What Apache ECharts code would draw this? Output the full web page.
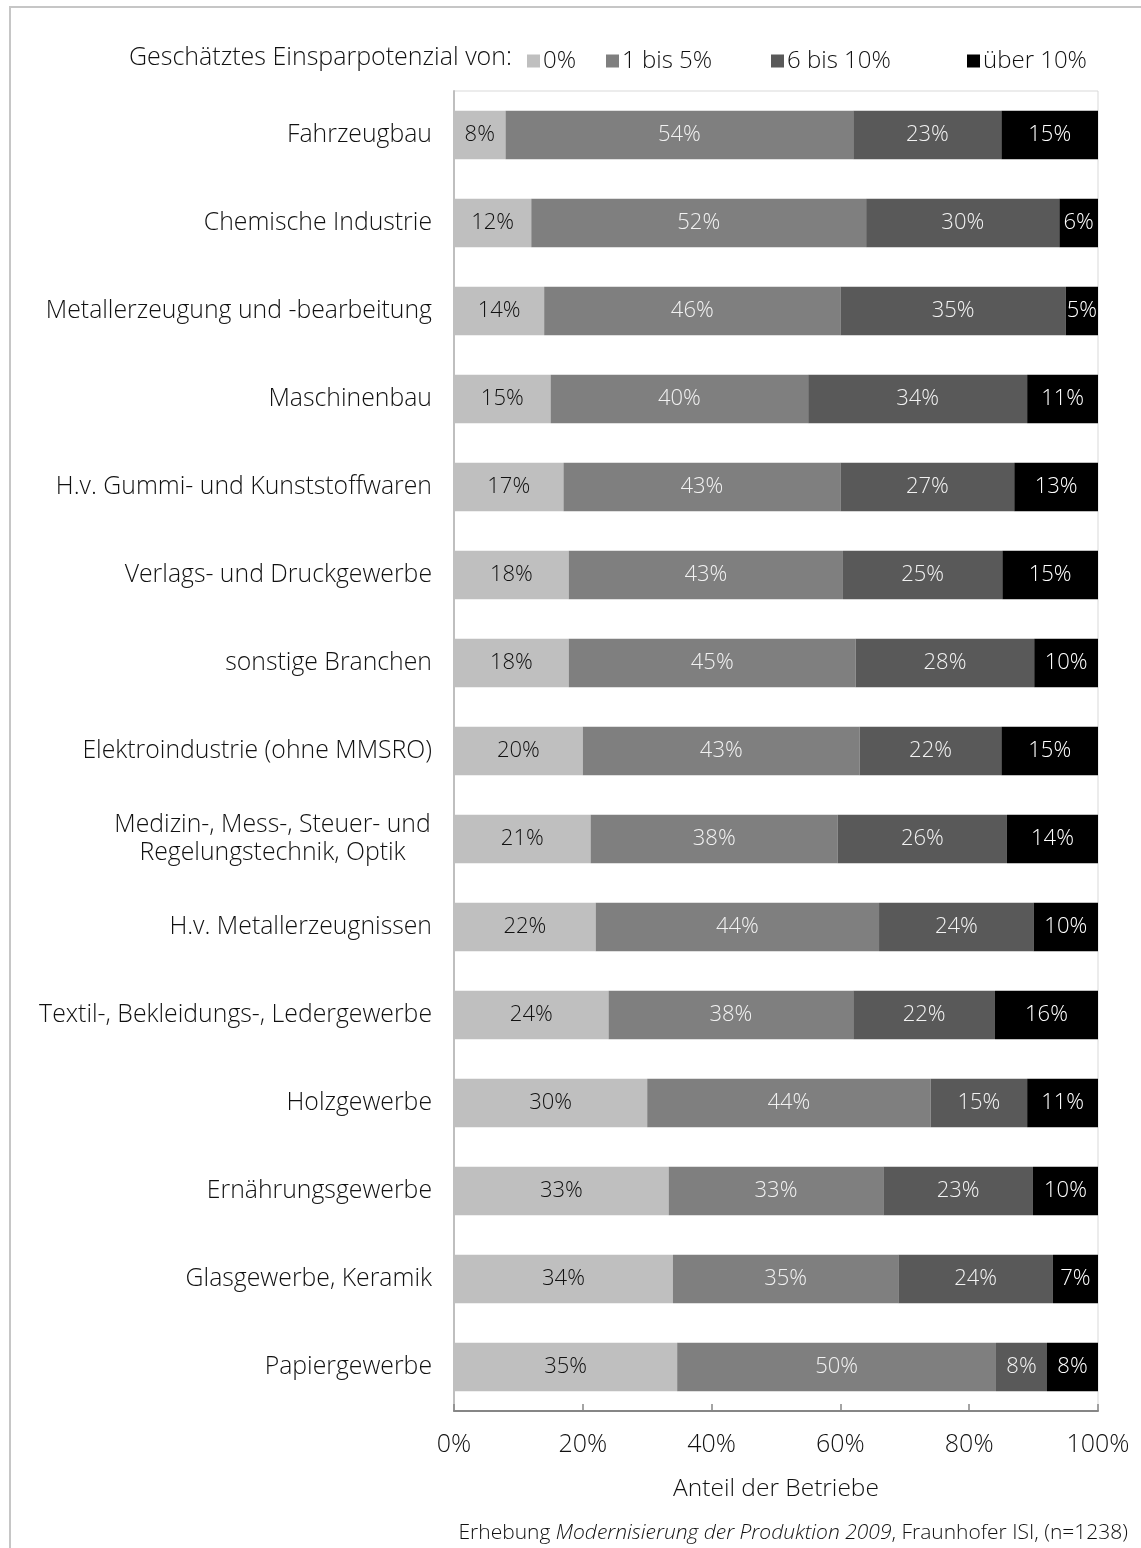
<!DOCTYPE html>
<html>
<head>
<meta charset="utf-8">
<script src="https://cdn.jsdelivr.net/npm/echarts@6/dist/echarts.min.js"></script>
<style>
  html, body { margin: 0; padding: 0; background: #fff; }
  #chart { width: 1141px; height: 1548px; }
</style>
</head>
<body>
<div id="chart"></div>
<script>
// Branchen (top to bottom)
const categories = [
  'Fahrzeugbau',
  'Chemische Industrie',
  'Metallerzeugung und -bearbeitung',
  'Maschinenbau',
  'H.v. Gummi- und Kunststoffwaren',
  'Verlags- und Druckgewerbe',
  'sonstige Branchen',
  'Elektroindustrie (ohne MMSRO)',
  'Medizin-, Mess-, Steuer- und\nRegelungstechnik, Optik',
  'H.v. Metallerzeugnissen',
  'Textil-, Bekleidungs-, Ledergewerbe',
  'Holzgewerbe',
  'Ernährungsgewerbe',
  'Glasgewerbe, Keramik',
  'Papiergewerbe'
];

// Anteil der Betriebe je geschätztem Einsparpotenzial (in %)
const seriesNames = ['0%', '1 bis 5%', '6 bis 10%', 'über 10%'];
const share0 = [8, 12, 14, 15, 17, 18, 18, 20, 21, 22, 24, 30, 33, 34, 35];
const share1to5 = [54, 52, 46, 40, 43, 43, 45, 43, 38, 44, 38, 44, 33, 35, 50];
const share6to10 = [23, 30, 35, 34, 27, 25, 28, 22, 26, 24, 22, 15, 23, 24, 8];
const shareOver10 = [15, 6, 5, 11, 13, 15, 10, 15, 14, 10, 16, 11, 10, 7, 8];

const xTicks = [0, 20, 40, 60, 80, 100];

const FONT = '"Open Sans", "DejaVu Sans", sans-serif';
const W = 350;
const TXT = '#111111';
const colors = ['#bfbfbf', '#7f7f7f', '#595959', '#000000'];
const labelColors = ['#111111', '#f2f2f2', '#f2f2f2', '#ffffff'];

const allShares = [share0, share1to5, share6to10, shareOver10];
// each row is shown as a 100% bar
const rowTotals = categories.map((_, i) => allShares.reduce((s, arr) => s + arr[i], 0));

// width of the longest line of a wrapped category label, for centering its lines
function textWidth(str, size) {
  const ctx = document.createElement('canvas').getContext('2d');
  ctx.font = W + ' ' + size + 'px ' + FONT;
  return Math.ceil(ctx.measureText(str).width) + 2;
}

const chart = echarts.init(document.getElementById('chart'), null, { renderer: 'canvas' });

const series = allShares.map((arr, k) => ({
  name: seriesNames[k],
  type: 'bar',
  stack: 'total',
  barWidth: '55%',
  itemStyle: { color: colors[k] },
  label: {
    show: true,
    position: 'inside',
    fontFamily: FONT,
    fontWeight: W,
    fontSize: 22,
    color: labelColors[k],
    formatter: p => arr[p.dataIndex] + '%'
  },
  data: arr.map((v, i) => v / rowTotals[i] * 100)
}));

const legends = seriesNames.map((n, k) => ({
  data: [n],
  left: [522, 601, 766, 962][k],
  top: 44,
  icon: 'rect',
  itemWidth: 13,
  itemHeight: 13,
  itemGap: 0,
  textStyle: { fontFamily: FONT, fontWeight: W, fontSize: 24, color: TXT, padding: [0, 0, 0, -2] },
  selectedMode: false
}));

const option = {
  backgroundColor: '#ffffff',
  animation: false,
  color: colors,
  legend: legends,
  grid: {
    left: 454, right: 43, top: 91, bottom: 137,
    show: true, borderColor: '#d9d9d9', borderWidth: 1,
    containLabel: false
  },
  xAxis: {
    type: 'value',
    min: xTicks[0],
    max: xTicks[xTicks.length - 1],
    interval: 20,
    splitLine: { show: false },
    axisLine: { show: true, lineStyle: { color: '#868686', width: 2 } },
    axisTick: { show: true, inside: true, length: 7, lineStyle: { color: '#868686', width: 1.5 } },
    axisLabel: {
      margin: 21,
      fontFamily: FONT, fontWeight: W, fontSize: 25, color: TXT,
      formatter: '{value}%'
    },
    name: 'Anteil der Betriebe',
    nameLocation: 'middle',
    nameGap: 66,
    nameTextStyle: { fontFamily: FONT, fontWeight: W, fontSize: 24.5, color: TXT }
  },
  yAxis: {
    type: 'category',
    inverse: true,
    data: categories,
    axisLine: { show: true, lineStyle: { color: '#bfbfbf', width: 2 } },
    axisTick: { show: false },
    axisLabel: {
      margin: 22,
      fontFamily: FONT, fontWeight: W, fontSize: 24.8, color: TXT,
      formatter: v => {
        if (v.indexOf('\n') < 0) return v;
        return v.split('\n').map(l => '{c|' + l + '}').join('\n');
      },
      rich: {
        c: {
          fontFamily: FONT, fontWeight: W, fontSize: 24.8, color: TXT,
          lineHeight: 28,
          align: 'center',
          width: textWidth('Medizin-, Mess-, Steuer- und', 24.8)
        }
      }
    }
  },
  graphic: [
    {
      type: 'rect',
      shape: { x: 10, y: 7, width: 1300, height: 1700 },
      style: { fill: 'none', stroke: '#c6c6c6', lineWidth: 2 },
      silent: true
    },
    {
      type: 'text',
      x: 512, y: 58,
      style: {
        text: 'Geschätztes Einsparpotenzial von:',
        fontFamily: FONT, fontWeight: W, fontSize: 25, fill: TXT,
        align: 'right', verticalAlign: 'middle'
      }
    },
    {
      type: 'text',
      x: 1128, y: 1533,
      style: {
        text: '{n|Erhebung }{i|Modernisierung der Produktion 2009}{n|, Fraunhofer ISI, (n=1238)}',
        align: 'right', verticalAlign: 'middle',
        rich: {
          n: { fontFamily: FONT, fontWeight: W, fontSize: 21, fill: TXT },
          i: { fontFamily: FONT, fontWeight: W, fontStyle: 'italic', fontSize: 21, fill: TXT }
        }
      }
    }
  ],
  series: series
};

chart.setOption(option);
</script>
</body>
</html>
